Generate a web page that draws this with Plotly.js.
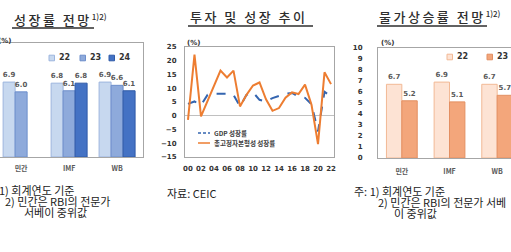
<!DOCTYPE html>
<html>
<head>
<meta charset="utf-8">
<script src="https://cdn.plot.ly/plotly-3.0.1.min.js"></script>
<style>
  html, body { margin: 0; padding: 0; background: #ffffff; overflow: hidden; }
  #chart { width: 511px; height: 252px; }
</style>
</head>
<body>
<div id="chart"></div>
<script>
// ---- data ----
const forecastSources = ['민간', 'IMF', 'WB'];
const forecastYears = ['22', '23', '24'];
const growth22 = [6.9, 6.8, 6.9];
const growth23 = [6.0, 6.1, 6.6];
const growth24 = [null, 6.8, 6.1];
const inflation22 = [6.7, 6.9, 6.7];
const inflation23 = [5.2, 5.1, 5.7];

const trendYears = [2000, 2001, 2002, 2003, 2004, 2005, 2006, 2007, 2008, 2009, 2010, 2011,
                    2012, 2013, 2014, 2015, 2016, 2017, 2018, 2019, 2020, 2021, 2022];
const gdpGrowth = [4.3, 5.2, 3.8, 7.6, 8.0, 8.0, 8.0, 7.6, 3.4, 7.6, 8.5, 5.8,
                   5.2, 6.4, 7.3, 8.0, 8.3, 7.0, 6.5, 4.2, -5.7, 8.7, 7.0];
const investGrowth = [-1.5, 22.2, -0.2, 5.5, 11.0, 16.4, 13.9, 16.4, 3.4, 7.6, 11.0, 12.1,
                      6.0, 1.8, 2.8, 6.6, 8.5, 7.9, 11.3, 4.0, -10.3, 15.8, 11.5];
const trendTickVals = [2000, 2002, 2004, 2006, 2008, 2010, 2012, 2014, 2016, 2018, 2020, 2022];
const trendTickText = ['00', '02', '04', '06', '08', '10', '12', '14', '16', '18', '20', '22'];
const trendNames = ['GDP 성장률', '총고정자본형성 성장률'];

const titles = ['성장률 전망', '투자 및 성장 추이', '물가상승률 전망'];
const noteMark = '1)2)';
const noteLines = ['1) 회계연도 기준', '2) 민간은 RBI의 전문가', '서베이 중위값'];
const noteLinesRight = ['주: 1) 회계연도 기준', '2) 민간은 RBI의 전문가 서베', '이 중위값'];
const sourceText = '자료: CEIC';
const unitText = '(%)';

// ---- helpers ----
const W = 511, H = 252;
const px = x => x / W;
const py = y => 1 - y / H;
const KR = '"Noto Sans CJK KR", "Noto Sans", sans-serif';
const NUM = '"DejaVu Sans", Verdana, sans-serif';
const catIdx = forecastSources.map((_, i) => i);

const blueFill = ['#c7d8ef', '#8eaadb', '#4472c4'];
const blueLine = ['#9db5de', '#6d8ecb', '#2f5aa8'];
const orangeFill = ['#fde3d4', '#f3a67b'];
const orangeLine = ['#f2b995', '#e38f62'];

function barTrace(vals, name, i, n, fill, line, xa, ya, w) {
  const offset = -n * w / 2 + i * w;
  return {
    type: 'bar', x: catIdx, y: vals, name: name,
    xaxis: xa, yaxis: ya, width: w, offset: offset,
    marker: { color: fill, line: { color: line, width: 1 } },
    texttemplate: '%{y:.1f}', textposition: 'outside', cliponaxis: false,
    constraintext: 'none',
    textfont: { family: NUM, size: 7, color: '#595959', weight: 'bold' },
    hoverinfo: 'skip'
  };
}

const growthSeries = [growth22, growth23, growth24];
const inflSeries = [inflation22, inflation23];
const traces = [];
growthSeries.forEach((s, i) => traces.push(barTrace(s, forecastYears[i], i, 3, blueFill[i], blueLine[i], 'x', 'y', 0.25)));
inflSeries.forEach((s, i) => traces.push(barTrace(s, forecastYears[i], i, 2, orangeFill[i], orangeLine[i], 'x3', 'y3', 0.323)));

traces.push({
  type: 'scatter', mode: 'lines', x: trendYears, y: gdpGrowth, name: trendNames[0],
  xaxis: 'x2', yaxis: 'y2', line: { color: '#3465b0', width: 2, dash: 'dash' }, hoverinfo: 'skip'
});
traces.push({
  type: 'scatter', mode: 'lines', x: trendYears, y: investGrowth, name: trendNames[1],
  xaxis: 'x2', yaxis: 'y2', line: { color: '#ed7d31', width: 2 }, hoverinfo: 'skip'
});

const frame = { showline: true, mirror: true, linecolor: '#a6a6a6', linewidth: 1, showgrid: false, zeroline: false, ticks: '' };
const catTickFont = { family: KR, size: 7, color: '#595959', weight: 'bold' };

const annotations = [];
const shapes = [];

// titles with underline
function title(text, x0, cy, ulY, ulX1, sup) {
  let t = '<span style="letter-spacing:2.5px">' + text + '</span>';
  if (sup) t += '<sup><span style="font-size:8px">' + sup + '</span></sup>';
  annotations.push({ xref: 'paper', yref: 'paper', x: px(x0), y: py(cy), xanchor: 'left', yanchor: 'middle',
    text: t, showarrow: false, font: { family: KR, size: 13, color: '#2e2e2e', weight: 500 } });
  shapes.push({ type: 'rect', xref: 'paper', yref: 'paper', layer: 'above',
    x0: px(x0), x1: px(ulX1), y0: py(ulY + 0.8), y1: py(ulY - 0.8),
    fillcolor: '#2e2e2e', line: { width: 0 } });
}
title(titles[0], 12, 20, 28, 94, noteMark);
title(titles[1], 188, 17, 26, 313, null);
title(titles[2], 377, 17, 26, 487, noteMark);

// units
[[-4, 41], [185, 43], [379, 43]].forEach(p => annotations.push({
  xref: 'paper', yref: 'paper', x: px(p[0]), y: py(p[1]), xanchor: 'left', yanchor: 'middle',
  text: unitText, showarrow: false, font: { family: NUM, size: 7, color: '#333333', weight: 'bold' }
}));

// bar legends
function swatchLegend(items, fills, lines, sx, y) {
  items.forEach((name, i) => {
    const x0 = sx[i];
    shapes.push({ type: 'rect', xref: 'paper', yref: 'paper', x0: px(x0), x1: px(x0 + 5.5), y0: py(y + 2.8), y1: py(y - 2.8),
      fillcolor: fills[i], line: { color: lines[i], width: 1 } });
    annotations.push({ xref: 'paper', yref: 'paper', x: px(x0 + 8), y: py(y), xanchor: 'left', yanchor: 'middle',
      text: name, showarrow: false, font: { family: NUM, size: 8, color: '#333333', weight: 'bold' } });
  });
}
swatchLegend(forecastYears, blueFill, blueLine, [49, 80, 109], 58);
swatchLegend(forecastYears.slice(0, 2), orangeFill, orangeLine, [447, 487], 57);

// line legend (middle)
[[133, '#3465b0', 'dash'], [143, '#ed7d31', 'solid']].forEach((d, i) => {
  shapes.push({ type: 'line', xref: 'paper', yref: 'paper', x0: px(198), x1: px(210), y0: py(d[0]), y1: py(d[0]),
    line: { color: d[1], width: 1.5, dash: d[2] === 'dash' ? '3px,2px' : 'solid' } });
  annotations.push({ xref: 'paper', yref: 'paper', x: px(212), y: py(d[0]), xanchor: 'left', yanchor: 'middle',
    text: trendNames[i], showarrow: false, font: { family: KR, size: 6.5, color: '#404040', weight: 'bold' } });
});

// footnotes
function noteLine(text, x, y) {
  annotations.push({ xref: 'paper', yref: 'paper', x: px(x), y: py(y), xanchor: 'left', yanchor: 'middle',
    text: text, showarrow: false, font: { family: KR, size: 11, color: '#222222' } });
}
noteLine(noteLines[0], -3, 190);
noteLine(noteLines[1], 3, 201);
noteLine(noteLines[2], 22, 212);
noteLine(sourceText, 165, 193);
noteLine(noteLinesRight[0], 352, 191);
noteLine(noteLinesRight[1], 376, 202);
noteLine(noteLinesRight[2], 392, 213);

const layout = {
  width: W, height: H,
  margin: { l: 0, r: 0, t: 0, b: 0, pad: 0 },
  paper_bgcolor: '#ffffff', plot_bgcolor: '#ffffff',
  showlegend: false,
  barmode: 'overlay',
  font: { family: KR },
  xaxis: Object.assign({}, frame, {
    domain: [0, px(143)], range: [-0.44, 2.54], anchor: 'y',
    tickvals: catIdx, ticktext: forecastSources, tickfont: catTickFont, ticklabelstandoff: 5
  }),
  yaxis: Object.assign({}, frame, {
    domain: [py(157), py(43)], range: [0, 10.5], anchor: 'x', showticklabels: false
  }),
  xaxis2: Object.assign({}, frame, {
    domain: [px(185), px(334)], range: [1999.54, 2022.46], anchor: 'y2',
    tickvals: trendTickVals, ticktext: trendTickText, ticklabelstandoff: 5,
    tickfont: { family: NUM, size: 7, color: '#333333', weight: 'bold' }
  }),
  yaxis2: Object.assign({}, frame, {
    domain: [py(157), py(47)], range: [-15, 25], anchor: 'x2', dtick: 5, tick0: 0,
    zeroline: true, zerolinecolor: '#c0c0c0', zerolinewidth: 1, ticklabelstandoff: 6,
    tickfont: { family: NUM, size: 7, color: '#333333', weight: 'bold' }
  }),
  xaxis3: Object.assign({}, frame, {
    domain: [px(378), 1], range: [-0.5, 2.29], anchor: 'y3',
    tickvals: catIdx, ticktext: forecastSources, tickfont: catTickFont, ticklabelstandoff: 7
  }),
  yaxis3: Object.assign({}, frame, {
    domain: [py(158), py(48)], range: [0, 10], anchor: 'x3', dtick: 1, tick0: 0, ticklabelstandoff: 13,
    tickfont: { family: NUM, size: 7, color: '#333333', weight: 'bold' }
  }),
  annotations: annotations,
  shapes: shapes
};

Plotly.newPlot('chart', traces, layout, { staticPlot: true, displayModeBar: false });
</script>
</body>
</html>
